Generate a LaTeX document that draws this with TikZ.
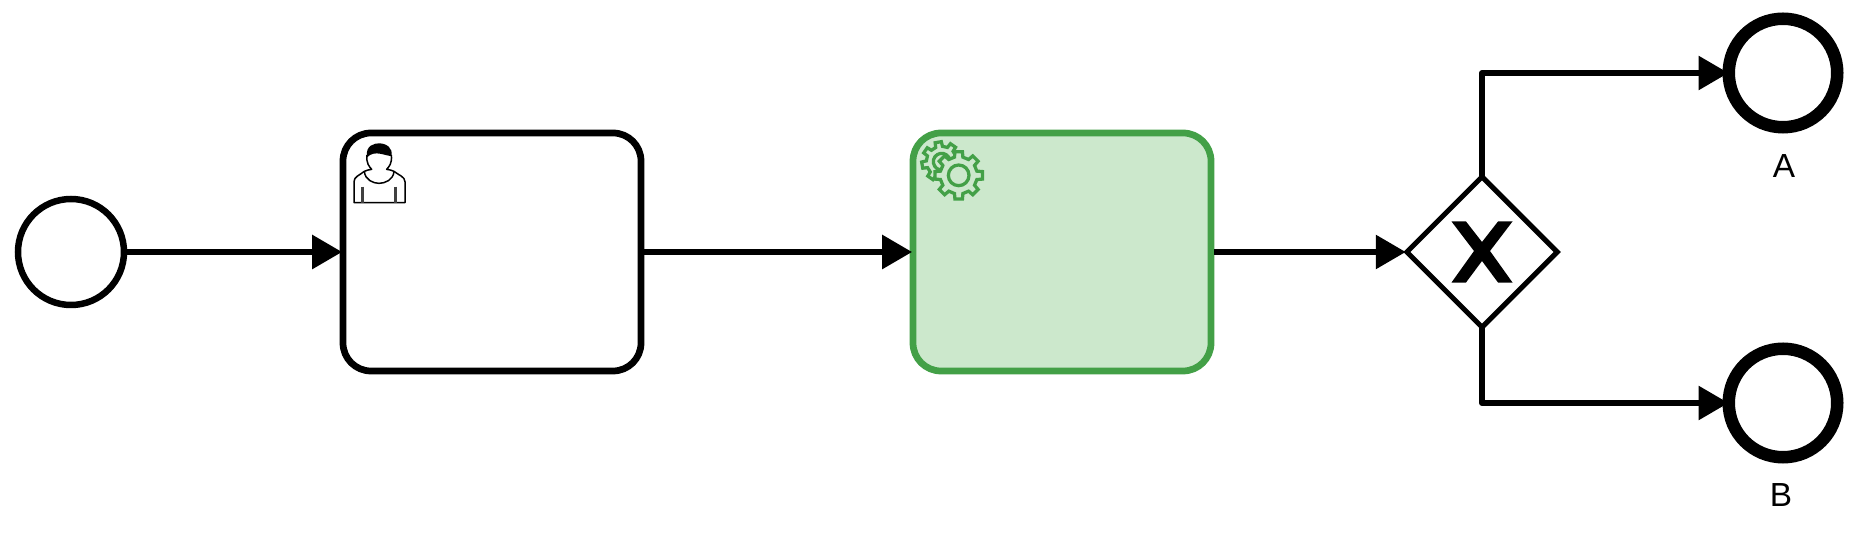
\documentclass[tikz,border=0pt]{standalone}
\usepackage{fontspec}
\setmainfont{Liberation Sans}
\usetikzlibrary{arrows.meta,shapes.geometric}
\definecolor{servicegreen}{HTML}{43A047}
\definecolor{servicefill}{HTML}{CCE8CC}
\tikzset{
  flow/.style={line width=0.12cm, line join=round, shorten >=-0.05cm, -{Triangle[length=0.6cm,width=0.66cm]}},
  event/.style={circle, draw, inner sep=0pt, line width=0.13cm, minimum size=2.12cm},
  endevent/.style={circle, draw, inner sep=0pt, line width=0.25cm, minimum size=2.17cm},
  task/.style={rectangle, draw, rounded corners=0.56cm, line width=0.135cm, minimum width=5.96cm, minimum height=4.76cm},
  gatewaybox/.style={diamond, draw, aspect=1, inner sep=0pt, line width=0.1cm, minimum size=3.05cm},
  endlabel/.style={font=\fontsize{19}{20}\selectfont},
  iconline/.style={line width=0.03cm, line join=round},
  gearline/.style={draw=servicegreen, line width=0.065cm, line join=miter}
}
% one gear, centred on the origin of the scope
\newcommand{\geartoothed}[3]{%
  \filldraw[gearline, fill=servicefill] (-#3:#2) \foreach \t in {0,45,...,315} {
    -- (\t-#3:#2) -- (\t-#3+4:#1) -- (\t+#3-4:#1) -- (\t+#3:#2) -- (\t+45-#3:#2)
  } -- cycle;
}
\begin{document}
\begin{tikzpicture}
  \useasboundingbox (0,0) rectangle (37.08,10.74);
  % Nodes
  \node (startEvent) [event] at (1.42, 5.70) {};
  \node (userTask) [task] at (9.84, 5.70) {};
  \node (serviceTask) [task, draw=servicegreen, fill=servicefill] at (21.24, 5.70) {};
  \node (gateway) [gatewaybox] at (29.64, 5.70) {};
  \node (endA) [endevent] at (35.66, 9.28) {};
  \node (endB) [endevent] at (35.66, 2.68) {};
  \node (labelA) [endlabel] at (35.68, 7.42) {A};
  \node (labelB) [endlabel] at (35.62, 0.84) {B};
  % Arrow
  \draw[flow] (startEvent) -- (userTask);
  \draw[flow] (userTask) -- (serviceTask);
  \draw[flow] (serviceTask) -- (gateway);
  \draw[flow, shorten <=-0.05cm, shorten >=-0.12cm] (gateway.north) |- (endA.west);
  \draw[flow, shorten <=-0.05cm, shorten >=-0.12cm] (gateway.south) |- (endB.west);
  % Gateway marker
  \begin{scope}[shift={(29.64, 5.70)}, x=0.02cm, y=0.02cm]
    \fill (-30.5,30.5) -- (-16,30.5) -- (0,10) -- (16,30.5) -- (30.5,30.5) -- (8,1) -- (30.5,-30.5) -- (16,-30.5)
      -- (0,-9) -- (-16,-30.5) -- (-30.5,-30.5) -- (-8,1) -- cycle;
  \end{scope}
  % User icon
  \begin{scope}[shift={(6.6, 8.34)}, x=0.00667cm, y=-0.00667cm]
    \fill (111,112) .. controls (105,75) and (135,70) .. (147,70) .. controls (170,70) and (190,85) .. (184,108)
      .. controls (165,108) and (135,88) .. (111,112) -- cycle;
    \draw[iconline] (111,105) .. controls (108,130) and (118,140) .. (125,148)
      .. controls (118,150) and (108,150) .. (103,154) .. controls (90,165) and (72,170) .. (72,185)
      -- (72,248) -- (225,248) -- (225,185) .. controls (225,170) and (205,165) .. (192,154)
      .. controls (187,150) and (177,150) .. (170,148) .. controls (177,140) and (187,130) .. (184,105);
    \draw[iconline] (103,154) .. controls (105,180) and (130,190) .. (147,190) .. controls (165,190) and (190,180) .. (192,154);
    \draw[line width=0.05cm, black!75] (98,200) -- (98,248);
    \draw[line width=0.05cm, black!75] (197,200) -- (197,248);
  \end{scope}
  % Service icon
  \begin{scope}[shift={(18, 8.34)}, x=0.00667cm, y=-0.00667cm]
    \begin{scope}[shift={(125,125)}, rotate=10]
      \geartoothed{60}{46}{13}
      \draw[gearline] (0,0) circle (25);
    \end{scope}
    \begin{scope}[shift={(176,166)}, rotate=0]
      \geartoothed{72}{56}{13}
      \draw[gearline] (0,0) circle (31);
    \end{scope}
  \end{scope}
\end{tikzpicture}
\end{document}
